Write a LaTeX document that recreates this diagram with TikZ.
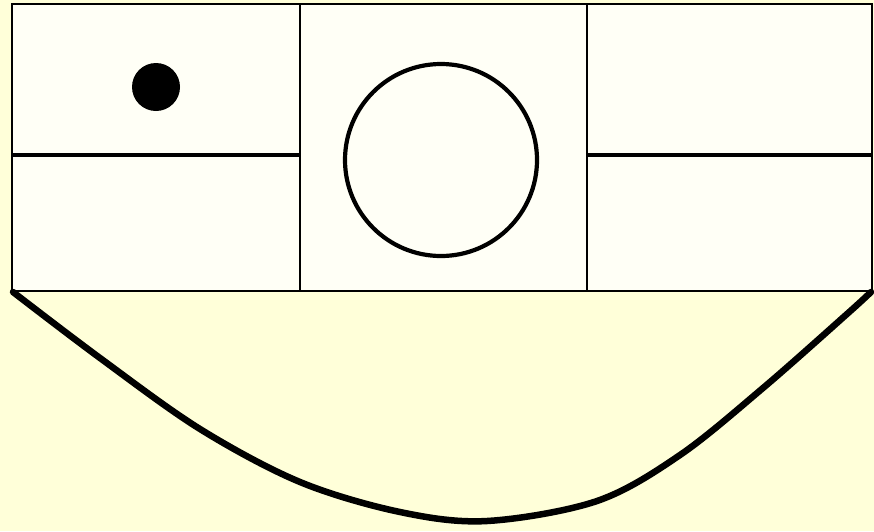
\documentclass[tikz,border=0pt]{standalone}
\begin{document}
\begin{tikzpicture}[x=1pt,y=-1pt,
  panel/.style={draw=black,line width=1.6pt,fill=panelfill},
  divider/.style={draw=black,line width=3.4pt},
  bowl/.style={draw=black,line width=6.5pt,line cap=round,line join=round}]
\definecolor{bgyellow}{RGB}{255,255,217}
\definecolor{panelfill}{RGB}{255,255,246}
\fill[bgyellow] (0,0) rectangle (874,531);
\useasboundingbox (0,0) rectangle (874,531);
% panels
\path[panel] (12,4) rectangle (300,291);
\path[panel] (300,4) rectangle (587,291);
\path[panel] (587,4) rectangle (872,291);
% dividers
\draw[divider] (12,155) -- (300,155);
\draw[divider] (587,155) -- (872,155);
% circle and dot
\draw[line width=4.2pt] (441,160) circle (96);
\fill[black] (156,87) circle (24);
% bowl curve
\draw[bowl] plot[smooth,tension=0.55] coordinates {(13,292) (100,358) (200,429) (300,482) (400,512) (487,521) (597,501) (680,455) (763,388) (847,314) (871,292)};
\end{tikzpicture}
\end{document}
